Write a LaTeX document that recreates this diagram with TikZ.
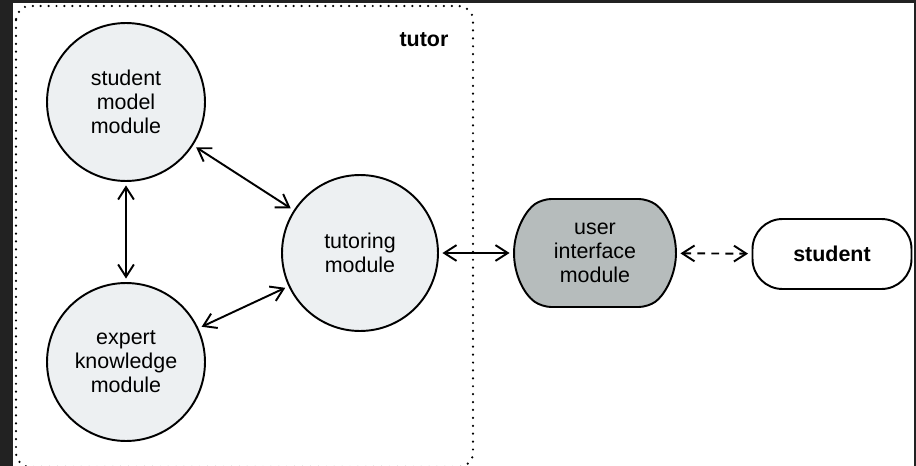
\documentclass[tikz,border=0pt]{standalone}
\usepackage{fontspec}
\setmainfont{Liberation Sans}
\usetikzlibrary{arrows.meta,shapes.misc}

\definecolor{modfill}{RGB}{237,240,242}
\definecolor{uifill}{RGB}{182,188,188}
\definecolor{edgedark}{RGB}{34,34,34}

\begin{document}
\begin{tikzpicture}[x=0.02cm,y=-0.02cm,
	modcirc/.style={circle,draw,line width=1.1pt,fill=modfill,minimum size=3.16cm,inner sep=0pt,
		align=center,font=\fontsize{12.2}{13.6}\selectfont},
	uibox/.style={rounded rectangle,rounded rectangle arc length=110,draw,line width=1.1pt,fill=uifill,
		minimum width=3.24cm,minimum height=2.16cm,inner sep=0pt,rounded corners=5pt,
		align=center,font=\fontsize{12.2}{13.6}\selectfont},
	userbox/.style={rectangle,rounded corners=0.6cm,draw,line width=1.1pt,minimum width=3.18cm,
		minimum height=1.4cm,font=\fontsize{12.2}{13.6}\selectfont\bfseries},
	link/.style={line width=1.1pt,{Straight Barb[length=7pt,width=9pt]}-{Straight Barb[length=7pt,width=9pt]},
		shorten >=2pt,shorten <=2pt}]
\useasboundingbox (0,0) rectangle (916,466);
\fill[white] (0,0) rectangle (916,466);
\fill[edgedark] (0,0) rectangle (13,466);
\fill[edgedark] (0,0) rectangle (916,3);
\fill[edgedark] (914,0) rectangle (916,466);

% tutor frame
\draw[line width=1.4pt,line cap=round,dash pattern=on 0pt off 4.5pt,rounded corners=8pt]
	(16,6) rectangle (473,467);
\node[font=\fontsize{12.2}{13.6}\selectfont\bfseries] (tutor) at (424,40) {tutor};

% modules
\node[modcirc] (smodel) at (126,102) {student\\model\\module};
\node[modcirc] (expert) at (126,362) {expert\\knowledge\\module};
\node[modcirc,minimum size=3.12cm] (tutoring) at (360,253) {tutoring\\module};
\node[uibox] (ui) at (595,253) {user\\interface\\module};
\node[userbox] (student) at (832,254) {student};

% links
\draw[link] (smodel) -- (expert);
\draw[link] (smodel) -- (tutoring);
\draw[link] (expert) -- (tutoring);
\draw[link] (tutoring) -- (ui);
\draw[link,dash pattern=on 4.5pt off 3.5pt] (ui) -- (student);

\end{tikzpicture}
\end{document}
